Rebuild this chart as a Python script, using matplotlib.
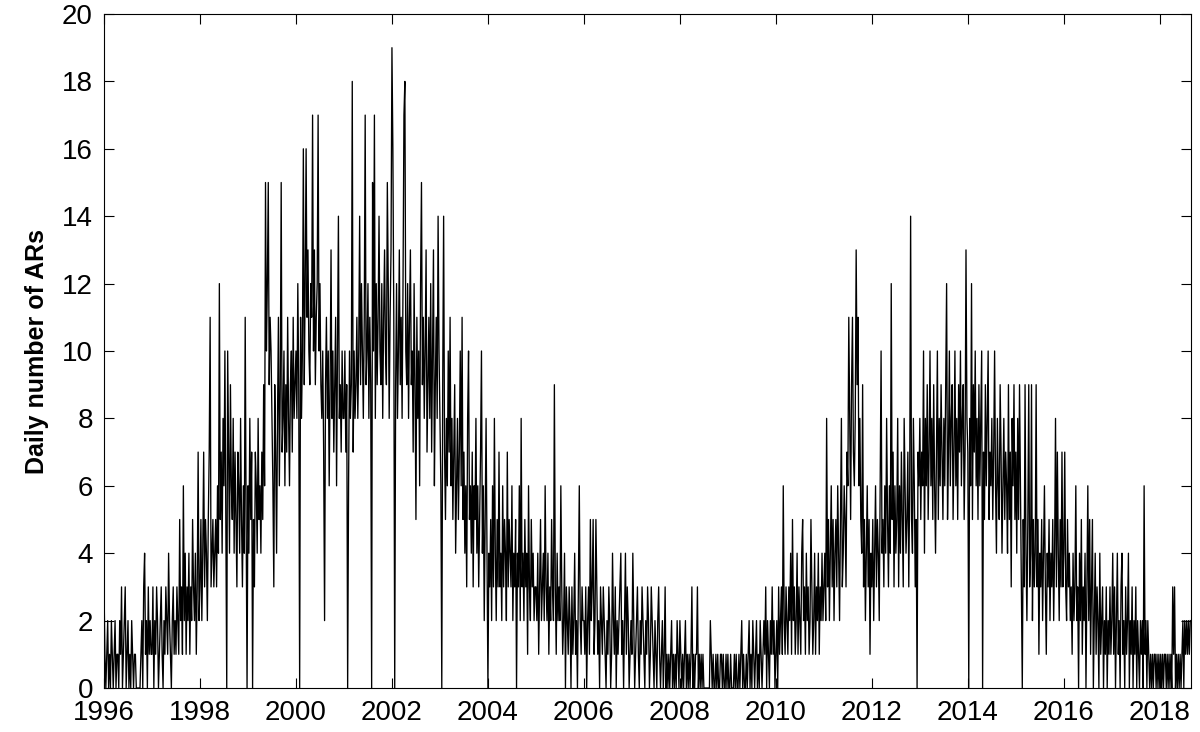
import numpy as np
import matplotlib
matplotlib.use("Agg")
import matplotlib.pyplot as plt

plt.rcParams['font.family'] = ['Liberation Sans', 'DejaVu Sans']

# weekly samples of the daily AR count (52 per year)
y1996 = [3,1,0,1,2,0,1,0,2,1,0,1,2, 0,1,1,0,2,1,3,0,1,2,3,0,1,
         2,0,1,0,2,1,0,1,1,0,0,0,0, 0,1,2,0,3,4,1,2,0,3,1,2,1]
y1997 = [1,3,0,2,1,3,2,0,1,2,3,1,0, 2,1,3,2,1,4,2,1,0,2,3,1,2,
         1,3,2,1,5,2,3,1,6,2,4,1,3, 2,4,1,3,2,5,3,2,4,1,3,7,2]
y1998 = [3,5,2,4,7,3,5,4,2,5,7,11,3, 4,5,3,4,5,3,6,4,12,5,7,4,8,
         6,10,5,0,10,7,4,9,6,5,8,4,7, 5,3,7,6,4,8,5,3,6,4,11,5,0]
y1999 = [6,4,8,5,7,0,5,3,7,6,4,8,5, 6,4,7,5,9,6,15,10,12,15,9,11,10,
         8,6,3,9,7,4,8,11,6,9,15,7,8, 10,6,9,7,11,8,6,9,10,7,11,8,9]
y2000 = [10,8,12,9,0,11,8,10,16,9,12,16,11, 13,10,9,12,11,17,10,13,9,11,12,17,10,
         12,9,8,10,7,2,9,11,8,10,6,9,13, 8,10,7,9,11,6,10,14,8,9,7,10,8]
y2001 = [8,10,7,9,0,6,10,8,9,18,7,10,8, 9,11,8,10,14,9,12,10,8,11,17,9,10,
         12,8,11,9,0,15,10,17,8,12,9,11,14, 10,9,12,8,11,13,10,9,15,12,8,11,13]
y2002 = [19,16,11,0,9,12,8,10,13,9,11,8,12, 17,18,10,9,12,8,11,13,9,10,7,12,9,
         5,11,8,10,6,12,15,9,11,8,10,13,7, 9,11,8,12,7,10,13,6,9,11,8,14,10]
y2003 = [8,6,0,9,14,7,5,8,6,10,7,11,6, 8,5,7,9,4,6,8,5,7,10,6,11,5,
         7,4,6,3,8,10,5,6,4,7,3,6,5, 8,4,6,3,5,7,10,4,6,2,5,8,4]
y2004 = [0,4,3,5,2,6,3,8,4,2,5,3,7, 3,4,2,6,3,5,4,2,7,3,5,4,3,
         6,2,4,3,5,0,4,3,6,2,8,3,4, 2,5,3,4,1,6,3,2,5,3,4,2,3]
y2005 = [3,2,4,1,3,5,2,3,4,2,6,3,2, 4,1,3,2,5,3,2,9,3,1,4,2,3,
         2,6,3,1,2,4,0,3,2,1,3,2,0, 3,1,2,4,1,2,0,3,6,2,1,3,2]
y2006 = [2,1,3,0,2,3,1,5,2,3,5,1,2, 5,3,1,2,0,3,2,1,3,2,1,0,2,
         1,3,2,0,1,4,2,1,3,0,2,1,2, 3,4,1,2,0,2,4,1,3,2,0,1,2]
y2007 = [1,4,2,0,1,2,3,1,0,2,1,3,2, 1,0,2,1,3,2,0,1,3,2,1,0,2,
         1,0,2,3,1,0,1,2,0,1,3,0,1, 0,1,0,1,2,0,1,0,1,0,2,1,0]
y2008 = [2,1,0,1,0,1,2,0,1,0,1,0,1, 3,0,1,0,1,1,3,0,1,0,1,0,1,
         0,0,0,0,0,0,0,2,1,0,1,0,0, 1,0,1,0,0,1,1,0,1,0,0,1,0]
y2009 = [1,0,0,1,0,0,0,1,0,1,0,0,1, 0,1,2,0,1,0,0,1,0,1,2,0,1,
         0,2,1,0,1,2,0,1,0,2,1,0,1, 2,1,3,0,2,1,0,2,1,3,1,2,0]
y2010 = [1,2,0,3,1,2,3,1,6,2,1,3,2, 1,3,2,4,1,5,2,3,1,2,4,1,3,
         2,1,4,5,2,3,1,4,2,3,1,2,5, 3,1,2,4,1,3,2,4,1,3,2,4,2]
y2011 = [3,4,2,8,3,5,2,4,6,3,5,2,4, 5,3,6,4,2,5,8,3,4,6,5,3,7,
         6,11,8,5,9,11,7,6,8,13,9,11,6, 8,5,4,9,3,5,2,4,6,3,5,1,4]
y2012 = [3,5,2,4,6,3,5,4,2,6,10,4,5, 3,6,4,8,5,3,6,4,12,5,7,3,6,
         4,5,8,3,6,4,7,5,3,8,6,4,5, 7,3,6,14,5,4,8,6,3,5,0,7,6]
y2013 = [8,5,7,6,10,4,8,6,9,5,7,10,6, 8,5,9,6,4,7,10,5,8,6,9,7,5,
         8,6,9,12,5,7,10,6,8,9,5,7,10, 6,8,5,9,7,10,6,8,9,5,7,13,8]
y2014 = [7,0,8,6,12,5,9,7,10,6,8,5,9, 6,8,10,0,7,5,9,6,8,10,5,7,6,
         8,5,7,10,6,4,8,6,5,9,7,4,6, 8,5,7,6,4,9,5,7,3,8,6,9,5]
y2015 = [7,4,8,5,9,6,3,0,5,3,9,4,2, 5,9,3,4,9,2,5,3,4,9,3,5,1,
         4,3,5,2,4,6,3,1,4,3,5,2,4, 3,5,2,4,8,3,7,4,2,5,3,7,3]
y2016 = [4,7,3,2,5,3,4,2,3,1,4,2,3, 6,2,3,0,4,2,5,1,3,2,4,0,3,
         6,2,5,1,3,5,0,2,4,1,3,2,0, 4,1,2,3,0,2,1,3,0,2,1,3,1]
y2017 = [2,4,1,3,0,2,4,1,2,0,3,4,1, 2,0,3,1,2,4,0,2,1,3,0,2,1,
         3,0,2,1,0,2,1,2,0,6,1,2,0, 2,1,0,1,0,1,0,1,1,0,1,0,1]
y2018 = [0,1,0,1,0,1,1,0,1,0,1,0,1, 0,3,1,3,0,1,0,1,0,1,0,1,2,
         0,2,1,2,1,2,1,2]

years = list(range(1996, 2019))
series = [y1996, y1997, y1998, y1999, y2000, y2001, y2002, y2003, y2004,
          y2005, y2006, y2007, y2008, y2009, y2010, y2011, y2012, y2013,
          y2014, y2015, y2016, y2017, y2018]

t = np.concatenate([yr + np.arange(len(v)) / 52.0 for yr, v in zip(years, series)])
n = np.concatenate([np.array(v, dtype=float) for v in series])

fig = plt.figure(figsize=(12, 7.32), dpi=100)
ax = fig.add_axes([104/1200, 44/732, 1087/1200, 674/732])
ax.plot(t, n, color='black', lw=0.95)

ax.set_xlim(1996, 2018.65)
ax.set_ylim(0, 20)
ax.set_xticks(range(1996, 2019, 2))
ax.set_yticks(range(0, 21, 2))
ax.tick_params(direction='in', length=7, width=0.8, top=True, right=True,
               labelsize=20)
ax.tick_params(axis='x', pad=9)
ax.tick_params(axis='y', pad=8)
for s in ax.spines.values():
    s.set_linewidth(0.8)
ax.set_ylabel('Daily number of ARs', fontsize=18, fontweight='bold', labelpad=9)

fig.savefig('out.png', dpi=100)
